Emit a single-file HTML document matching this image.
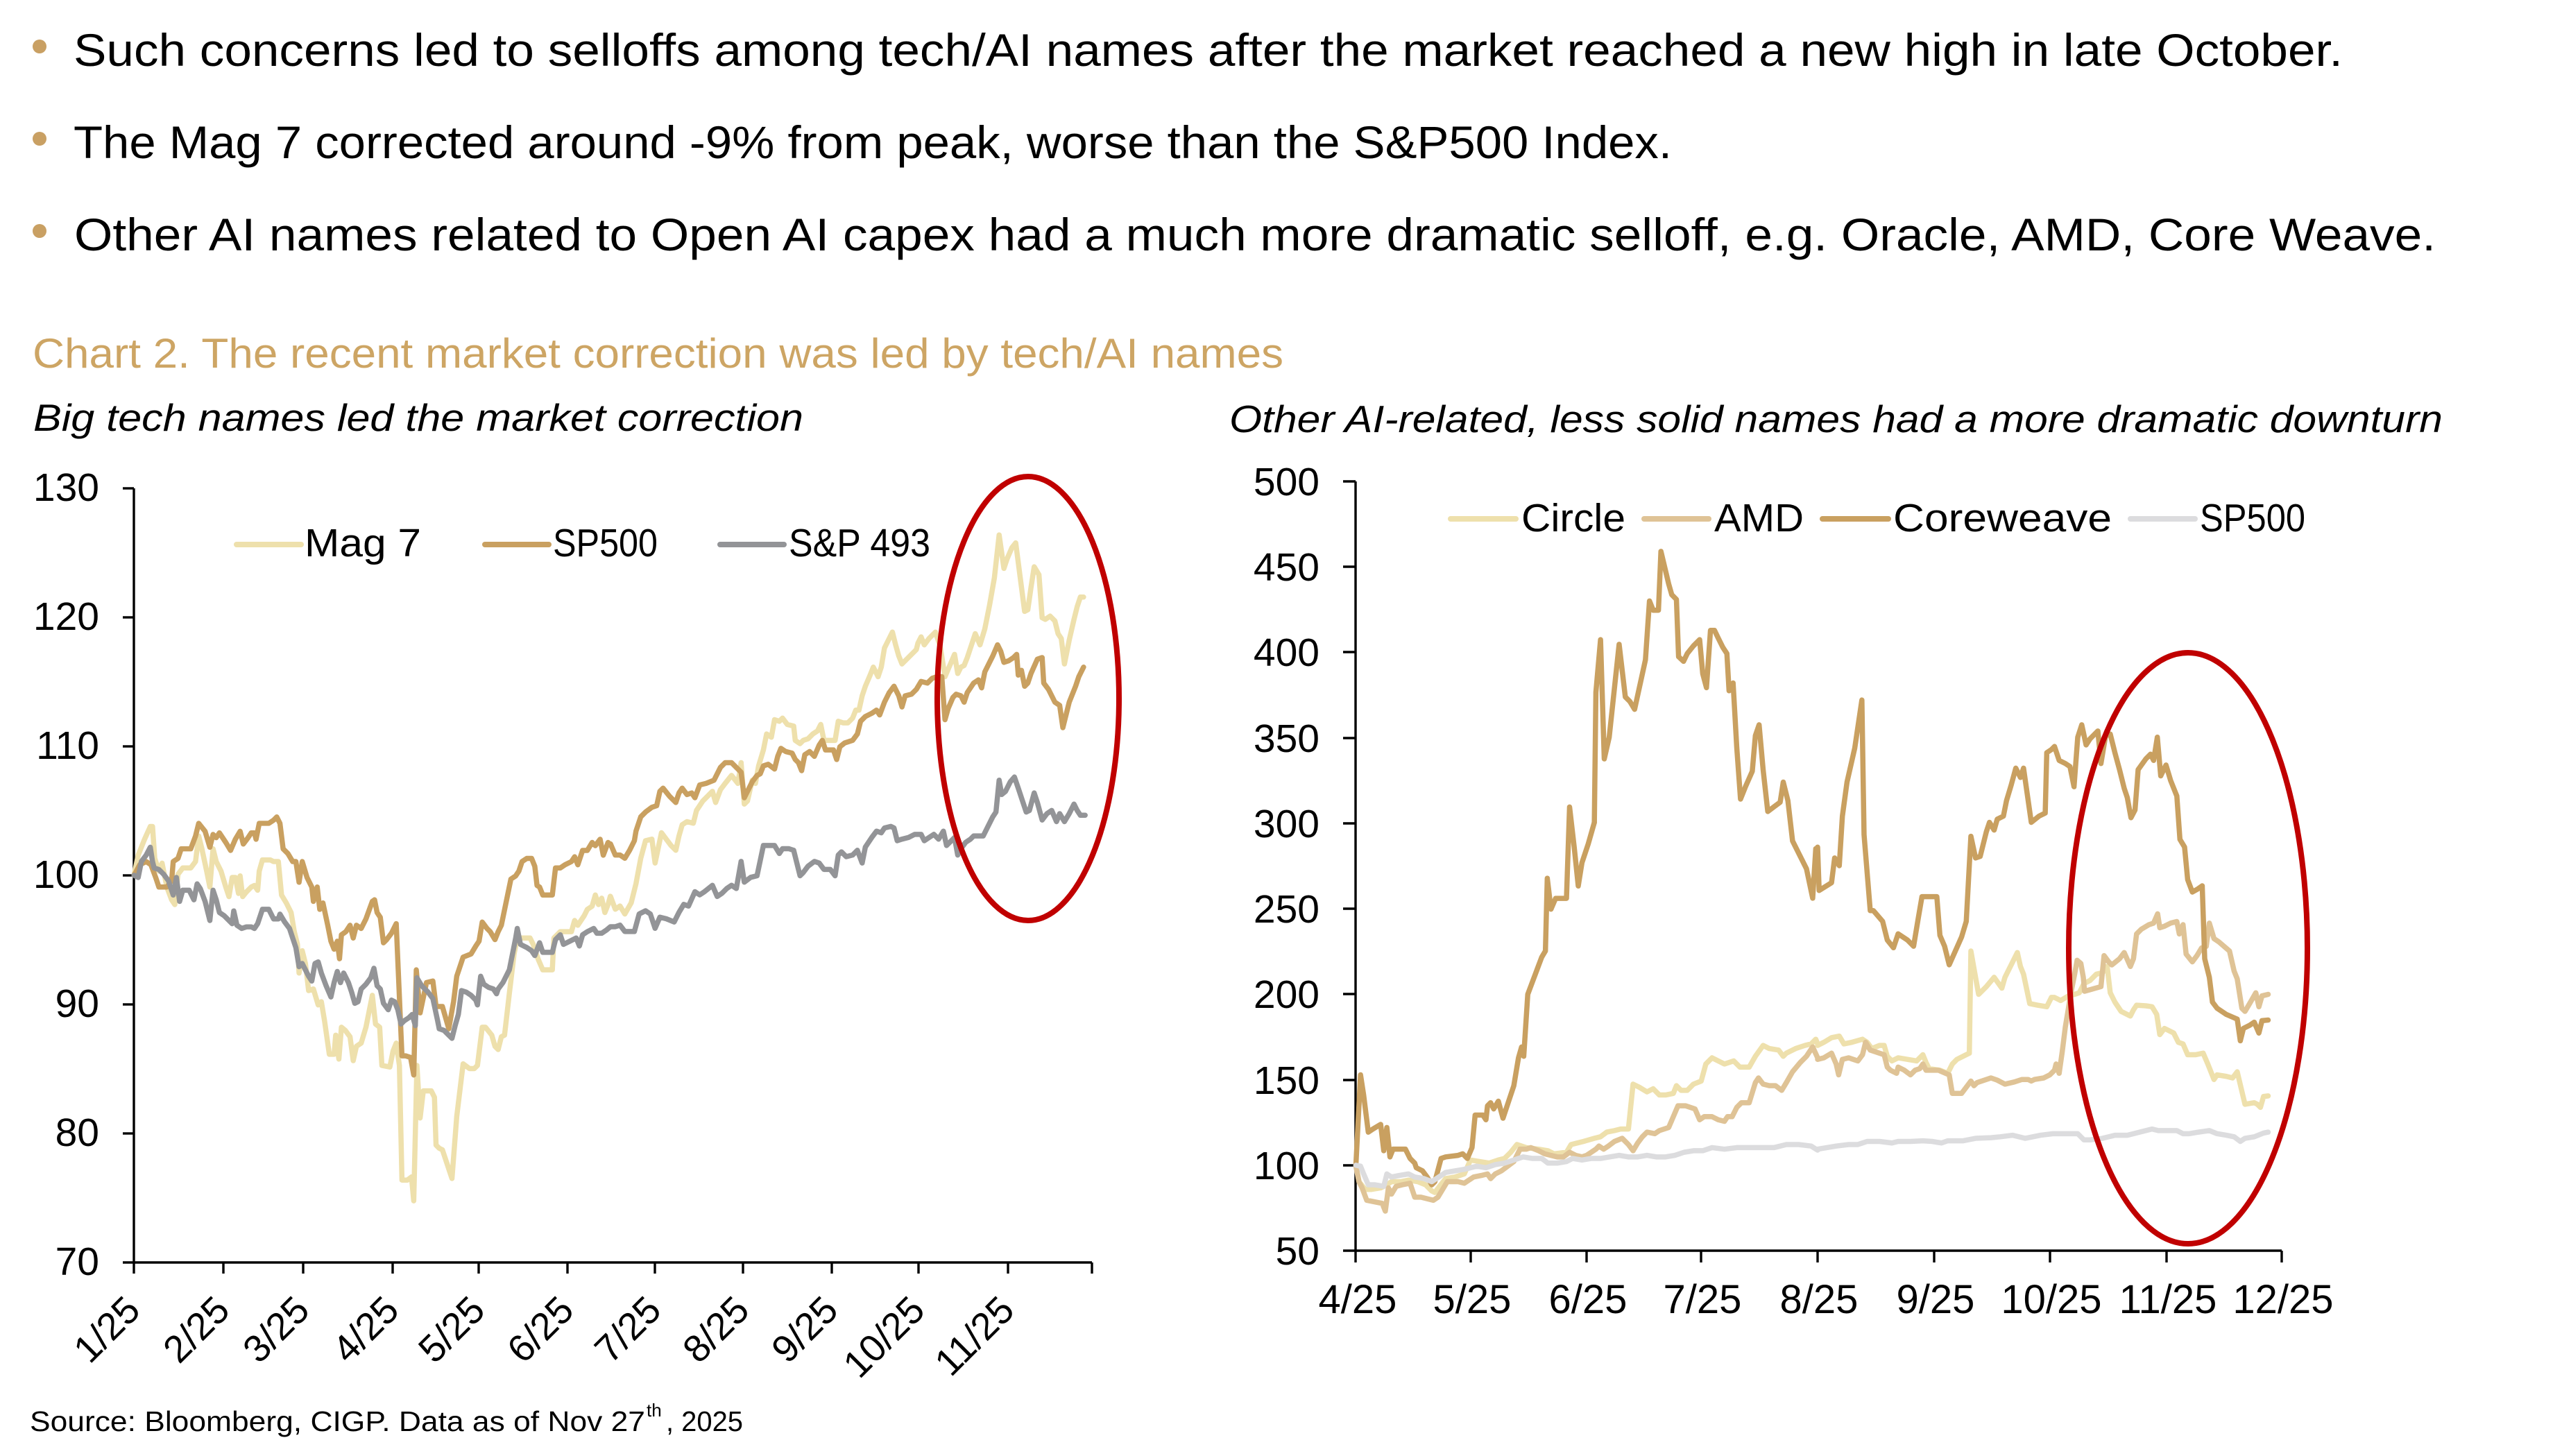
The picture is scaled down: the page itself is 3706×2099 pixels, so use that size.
<!DOCTYPE html>
<html>
<head>
<meta charset="utf-8">
<style>
html,body{margin:0;padding:0;background:#fff;}
svg{display:block;}
</style>
</head>
<body>
<svg xmlns="http://www.w3.org/2000/svg" width="3706" height="2099" viewBox="0 0 3706 2099" font-family="'Liberation Sans', Arial, sans-serif">
<rect x="0" y="0" width="3706" height="2099" fill="#ffffff"/>

<!-- Bullets -->
<circle cx="57" cy="67" r="10" fill="#C9A063"/>
<circle cx="57" cy="200" r="10" fill="#C9A063"/>
<circle cx="57" cy="333" r="10" fill="#C9A063"/>
<text x="106" y="95" font-size="66" fill="#000" textLength="3271" lengthAdjust="spacingAndGlyphs">Such concerns led to selloffs among tech/AI names after the market reached a new high in late October.</text>
<text x="106" y="228" font-size="66" fill="#000" textLength="2304" lengthAdjust="spacingAndGlyphs">The Mag 7 corrected around -9% from peak, worse than the S&amp;P500 Index.</text>
<text x="107" y="361" font-size="66" fill="#000" textLength="3404" lengthAdjust="spacingAndGlyphs">Other AI names related to Open AI capex had a much more dramatic selloff, e.g. Oracle, AMD, Core Weave.</text>

<!-- Titles -->
<text x="47" y="530" font-size="60" fill="#CDA564" textLength="1803" lengthAdjust="spacingAndGlyphs">Chart 2. The recent market correction was led by tech/AI names</text>
<text x="48" y="621" font-size="55" font-style="italic" fill="#000" textLength="1110" lengthAdjust="spacingAndGlyphs">Big tech names led the market correction</text>
<text x="1772" y="623" font-size="55" font-style="italic" fill="#000" textLength="1749" lengthAdjust="spacingAndGlyphs">Other AI-related, less solid names had a more dramatic downturn</text>

<!-- ================= LEFT CHART ================= -->
<g stroke="#000" stroke-width="3.4" fill="none">
  <line x1="193" y1="704" x2="193" y2="1820"/>
  <line x1="177" y1="1820" x2="1574" y2="1820"/>
  <line x1="177" y1="704" x2="193" y2="704"/>
  <line x1="177" y1="890" x2="193" y2="890"/>
  <line x1="177" y1="1076" x2="193" y2="1076"/>
  <line x1="177" y1="1262" x2="193" y2="1262"/>
  <line x1="177" y1="1448" x2="193" y2="1448"/>
  <line x1="177" y1="1634" x2="193" y2="1634"/>
  <line x1="193" y1="1820" x2="193" y2="1836"/>
  <line x1="322" y1="1820" x2="322" y2="1836"/>
  <line x1="437" y1="1820" x2="437" y2="1836"/>
  <line x1="566" y1="1820" x2="566" y2="1836"/>
  <line x1="690" y1="1820" x2="690" y2="1836"/>
  <line x1="818" y1="1820" x2="818" y2="1836"/>
  <line x1="944" y1="1820" x2="944" y2="1836"/>
  <line x1="1071" y1="1820" x2="1071" y2="1836"/>
  <line x1="1199" y1="1820" x2="1199" y2="1836"/>
  <line x1="1324" y1="1820" x2="1324" y2="1836"/>
  <line x1="1453" y1="1820" x2="1453" y2="1836"/>
  <line x1="1574" y1="1820" x2="1574" y2="1836"/>
</g>
<g font-size="57" fill="#000" text-anchor="end">
  <text x="143" y="722">130</text>
  <text x="143" y="908">120</text>
  <text x="143" y="1094">110</text>
  <text x="143" y="1280">100</text>
  <text x="143" y="1466">90</text>
  <text x="143" y="1652">80</text>
  <text x="143" y="1838">70</text>
</g>
<g font-size="55" fill="#000" text-anchor="end">
  <text x="205" y="1892" transform="rotate(-45 205 1892)">1/25</text>
  <text x="334" y="1892" transform="rotate(-45 334 1892)">2/25</text>
  <text x="449" y="1892" transform="rotate(-45 449 1892)">3/25</text>
  <text x="578" y="1892" transform="rotate(-45 578 1892)">4/25</text>
  <text x="702" y="1892" transform="rotate(-45 702 1892)">5/25</text>
  <text x="830" y="1892" transform="rotate(-45 830 1892)">6/25</text>
  <text x="956" y="1892" transform="rotate(-45 956 1892)">7/25</text>
  <text x="1083" y="1892" transform="rotate(-45 1083 1892)">8/25</text>
  <text x="1211" y="1892" transform="rotate(-45 1211 1892)">9/25</text>
  <text x="1336" y="1892" transform="rotate(-45 1336 1892)">10/25</text>
  <text x="1465" y="1892" transform="rotate(-45 1465 1892)">11/25</text>
</g>

<!-- Left legend -->
<g stroke-width="8" stroke-linecap="round">
  <line x1="341" y1="785" x2="434" y2="785" stroke="#EEE0AC"/>
  <line x1="699" y1="785" x2="791" y2="785" stroke="#C9A060"/>
  <line x1="1038" y1="785" x2="1130" y2="785" stroke="#939497"/>
</g>
<g font-size="57" fill="#000">
  <text x="439" y="802" textLength="168" lengthAdjust="spacingAndGlyphs">Mag 7</text>
  <text x="797" y="802" textLength="151" lengthAdjust="spacingAndGlyphs">SP500</text>
  <text x="1137" y="802" textLength="204" lengthAdjust="spacingAndGlyphs">S&amp;P 493</text>
</g>

<!-- Left series -->
<g transform="translate(190,1040) scale(0.4592)" fill="none" stroke-width="16.3" stroke-linejoin="round" stroke-linecap="round">
<path stroke="#EEE0AC" d="M7,483 L20,420 40,370 58,330 65,330 72,430 85,470 95,445 110,520 125,560 135,575 145,480 160,460 185,460 200,440 210,360 220,400 235,470 245,520 255,400 265,440 280,470 295,520 305,550 315,490 325,490 335,540 340,485 348,550 360,535 375,520 385,515 395,530 400,470 410,435 435,435 445,440 460,440 470,545 485,570 500,600 510,660 520,700 525,790 535,720 545,760 555,845 570,840 585,890 595,880 605,940 620,1045 635,1045 640,985 650,1060 658,960 670,970 685,990 695,1065 705,1020 720,1010 735,960 755,860 765,950 778,960 785,1080 810,1085 820,1035 830,1010 840,1080 848,1440 865,1440 878,1430 885,1505 895,1080 905,1245 915,1160 940,1160 950,1180 955,1330 965,1340 975,1345 990,1390 1005,1435 1020,1240 1040,1075 1060,1090 1075,1090 1085,1080 1100,960 1110,960 1130,985 1140,1020 1150,1030 1160,990 1170,985 1185,855 1200,730 1210,680 1225,680 1250,680 1260,700 1275,745 1290,780 1320,780 1325,680 1345,660 1360,660 1380,660 1390,625 1400,640 1410,625 1420,610 1430,590 1445,580 1455,545 1465,575 1475,555 1485,600 1495,575 1502,549"/>
<path stroke="#C9A060" d="M7,483 L25,450 45,440 60,450 75,490 85,520 110,520 125,500 130,440 145,430 155,400 185,400 200,360 210,320 230,345 245,395 255,355 265,365 275,350 295,380 310,405 325,370 340,345 350,385 365,365 375,350 385,350 390,370 400,320 430,320 445,310 455,300 465,320 475,400 490,415 505,440 515,440 525,505 535,440 550,490 565,520 570,565 582,520 590,590 600,570 615,640 625,690 635,715 645,690 652,745 658,670 672,660 685,640 695,680 705,640 720,650 735,620 755,565 762,560 770,600 780,615 790,695 800,685 815,665 830,635 848,1050 860,1050 875,1055 885,1110 893,780 905,915 925,820 945,815 955,895 975,895 995,965 1010,880 1020,800 1040,740 1065,730 1080,705 1090,690 1100,630 1115,650 1125,660 1140,685 1150,660 1160,640 1190,495 1205,485 1215,470 1225,440 1240,430 1255,430 1265,455 1272,515 1280,520 1290,545 1320,545 1330,460 1345,460 1360,450 1380,440 1390,425 1400,450 1415,405 1430,405 1445,380 1455,390 1470,370 1480,420 1495,380 1502,387"/>
</g>
<g transform="translate(880,700) scale(0.4592)" fill="none" stroke-width="16.3" stroke-linejoin="round" stroke-linecap="round">
<path stroke="#EEE0AC" d="M0,1290 L15,1330 30,1320 45,1345 65,1310 80,1250 95,1170 110,1115 130,1110 140,1185 160,1090 175,1110 190,1130 205,1145 215,1100 225,1065 240,1055 260,1060 270,1020 290,990 305,975 320,960 330,995 345,955 360,935 380,910 400,935 410,870 420,1000 430,990 445,925 455,935 465,880 480,830 490,780 505,790 515,735 530,740 540,730 555,750 575,755 580,800 595,810 605,800 620,795 635,780 650,770 660,750 670,800 690,800 705,800 715,740 730,745 745,745 760,730 770,705 780,705 790,660 800,630 815,595 825,570 840,600 850,570 860,510 870,490 885,460 895,500 905,535 915,560 930,545 945,530 960,515 965,495 975,475 985,500 1000,480 1020,460 1035,505 1050,600 1065,565 1080,530 1090,590 1100,570 1110,565 1120,540 1130,510 1145,465 1160,500 1175,450 1190,375 1205,290 1220,155 1235,260 1245,230 1260,195 1272,180 1285,280 1300,395 1310,390 1320,320 1330,255 1345,280 1355,415 1365,420 1380,410 1395,425 1405,465 1415,480 1425,560 1440,485 1455,420 1465,380 1475,350 1485,350"/>
<path stroke="#C9A060" d="M0,1125 L15,1160 30,1160 45,1170 60,1145 75,1115 80,1085 95,1040 110,1025 130,1010 145,1005 155,960 165,950 185,975 205,995 215,965 225,950 240,970 255,965 265,980 280,940 300,935 325,925 335,905 345,885 360,870 380,870 395,885 410,900 420,980 430,960 445,930 460,910 470,905 480,880 495,875 515,890 525,850 535,825 550,835 570,840 580,860 590,870 600,895 610,845 625,835 640,850 655,815 665,800 675,830 700,830 710,860 720,820 735,808 760,800 775,780 785,740 800,725 820,715 835,705 845,720 860,680 875,650 890,630 905,660 915,695 925,660 945,655 960,640 975,615 995,620 1010,605 1025,600 1040,600 1050,735 1060,700 1075,665 1085,655 1100,660 1110,680 1120,650 1140,620 1155,610 1165,635 1175,585 1190,555 1200,535 1215,500 1225,520 1235,555 1250,550 1265,540 1275,530 1280,595 1290,580 1300,630 1310,620 1320,590 1340,545 1355,540 1360,620 1375,640 1395,680 1410,690 1420,760 1440,680 1460,630 1470,600 1485,570"/>
</g>
<g transform="translate(190,1040) scale(0.4592)" fill="none" stroke-width="16.3" stroke-linejoin="round" stroke-linecap="round">
<path stroke="#939497" d="M7,483 L20,490 30,440 45,420 58,395 65,440 70,460 85,465 100,480 115,500 130,545 140,490 150,565 160,530 180,530 195,560 205,510 215,525 230,565 245,625 255,530 265,560 275,600 290,610 300,620 315,635 320,595 330,640 345,650 360,645 375,645 385,650 395,635 410,590 430,590 445,620 460,620 465,605 480,630 495,650 505,680 515,710 525,770 535,760 545,780 555,800 565,815 575,760 585,755 595,790 610,830 625,865 635,820 645,785 655,820 665,790 680,820 690,850 700,885 710,880 720,840 735,825 750,805 760,775 770,830 780,840 790,885 805,905 815,875 825,880 835,905 845,950 855,940 870,930 880,920 890,955 895,805 910,830 930,850 945,870 960,940 965,965 980,970 995,985 1005,995 1015,955 1025,920 1035,845 1050,850 1065,860 1080,875 1085,890 1095,800 1105,825 1120,835 1135,840 1145,855 1150,840 1165,820 1185,780 1195,730 1205,680 1210,650 1220,700 1240,710 1255,720 1265,735 1280,695 1290,725 1320,725 1330,685 1345,670 1355,700 1375,690 1395,680 1405,705 1415,670 1430,660 1450,650 1460,665 1475,665 1490,655 1502,645"/>
</g>
<g transform="translate(880,700) scale(0.4592)" fill="none" stroke-width="16.3" stroke-linejoin="round" stroke-linecap="round">
<path stroke="#939497" d="M0,1385 L15,1385 30,1380 45,1400 60,1400 75,1400 90,1345 110,1335 125,1345 140,1390 155,1355 175,1360 200,1370 215,1340 230,1315 245,1320 265,1275 280,1285 295,1275 320,1255 335,1290 350,1280 365,1265 380,1255 395,1265 410,1180 420,1245 440,1230 460,1225 480,1130 500,1130 515,1130 530,1155 540,1140 560,1140 575,1145 595,1225 605,1215 620,1195 640,1180 655,1185 670,1205 690,1205 705,1225 715,1160 725,1150 740,1165 760,1160 775,1145 790,1185 800,1135 820,1105 835,1085 850,1090 860,1075 880,1070 890,1075 900,1115 915,1110 935,1105 955,1095 975,1095 985,1115 1000,1105 1015,1095 1030,1110 1045,1085 1055,1130 1070,1115 1080,1105 1090,1160 1100,1140 1115,1120 1130,1110 1140,1100 1155,1100 1170,1100 1185,1070 1200,1040 1210,1025 1220,925 1228,970 1240,960 1255,930 1268,915 1280,950 1290,980 1305,1025 1315,1020 1330,965 1340,995 1355,1050 1370,1030 1385,1020 1400,1055 1410,1030 1425,1055 1440,1030 1455,1000 1465,1020 1475,1035 1490,1035"/>
</g>
<ellipse cx="1482" cy="1007" rx="131" ry="320" fill="none" stroke="#C00000" stroke-width="8"/>

<!-- ================= RIGHT CHART ================= -->
<g stroke="#000" stroke-width="3.4" fill="none">
  <line x1="1954" y1="694" x2="1954" y2="1803"/>
  <line x1="1936" y1="1803" x2="3289" y2="1803"/>
  <line x1="1936" y1="694" x2="1954" y2="694"/>
  <line x1="1936" y1="817" x2="1954" y2="817"/>
  <line x1="1936" y1="940" x2="1954" y2="940"/>
  <line x1="1936" y1="1064" x2="1954" y2="1064"/>
  <line x1="1936" y1="1187" x2="1954" y2="1187"/>
  <line x1="1936" y1="1310" x2="1954" y2="1310"/>
  <line x1="1936" y1="1433" x2="1954" y2="1433"/>
  <line x1="1936" y1="1557" x2="1954" y2="1557"/>
  <line x1="1936" y1="1680" x2="1954" y2="1680"/>
  <line x1="1954" y1="1803" x2="1954" y2="1820"/>
  <line x1="2120" y1="1803" x2="2120" y2="1820"/>
  <line x1="2287" y1="1803" x2="2287" y2="1820"/>
  <line x1="2452" y1="1803" x2="2452" y2="1820"/>
  <line x1="2620" y1="1803" x2="2620" y2="1820"/>
  <line x1="2788" y1="1803" x2="2788" y2="1820"/>
  <line x1="2955" y1="1803" x2="2955" y2="1820"/>
  <line x1="3123" y1="1803" x2="3123" y2="1820"/>
  <line x1="3289" y1="1803" x2="3289" y2="1820"/>
</g>
<g font-size="57" fill="#000" text-anchor="end">
  <text x="1902" y="714">500</text>
  <text x="1902" y="837">450</text>
  <text x="1902" y="960">400</text>
  <text x="1902" y="1084">350</text>
  <text x="1902" y="1207">300</text>
  <text x="1902" y="1330">250</text>
  <text x="1902" y="1453">200</text>
  <text x="1902" y="1577">150</text>
  <text x="1902" y="1700">100</text>
  <text x="1902" y="1823">50</text>
</g>
<g font-size="58" fill="#000" text-anchor="middle">
  <text x="1957" y="1893">4/25</text>
  <text x="2122" y="1893">5/25</text>
  <text x="2289" y="1893">6/25</text>
  <text x="2454" y="1893">7/25</text>
  <text x="2622" y="1893">8/25</text>
  <text x="2790" y="1893">9/25</text>
  <text x="2957" y="1893">10/25</text>
  <text x="3125" y="1893">11/25</text>
  <text x="3291" y="1893">12/25</text>
</g>

<!-- Right legend -->
<g stroke-width="8" stroke-linecap="round">
  <line x1="2091" y1="748" x2="2185" y2="748" stroke="#EEE0AC"/>
  <line x1="2370" y1="748" x2="2463" y2="748" stroke="#DFC396"/>
  <line x1="2627" y1="748" x2="2722" y2="748" stroke="#C9A060"/>
  <line x1="3071" y1="748" x2="3164" y2="748" stroke="#DCDCDE"/>
</g>
<g font-size="57" fill="#000">
  <text x="2193" y="766" textLength="150" lengthAdjust="spacingAndGlyphs">Circle</text>
  <text x="2471" y="766" textLength="129" lengthAdjust="spacingAndGlyphs">AMD</text>
  <text x="2729" y="766" textLength="315" lengthAdjust="spacingAndGlyphs">Coreweave</text>
  <text x="3171" y="766" textLength="152" lengthAdjust="spacingAndGlyphs">SP500</text>
</g>

<!-- Circle -->
<g transform="translate(1950,1150) scale(0.4464)" fill="none" stroke-width="16.8" stroke-linejoin="round" stroke-linecap="round">
<path stroke="#EEE0AC" d="M10,1187 L20,1240 40,1265 60,1265 90,1260 110,1250 125,1240 155,1240 180,1235 210,1240 235,1250 255,1270 265,1275 280,1255 300,1230 330,1225 360,1215 380,1170 410,1175 440,1180 470,1170 490,1165 510,1145 530,1120 560,1130 600,1135 630,1140 650,1150 690,1145 705,1120 725,1115 745,1110 780,1100 800,1095 820,1080 845,1075 865,1070 890,1070 905,925 925,935 950,950 970,940 990,960 1010,960 1035,955 1045,930 1060,945 1080,945 1100,925 1125,915 1140,860 1160,840 1180,850 1200,860 1215,855 1230,850 1250,870 1280,870 1300,835 1325,800 1345,810 1375,815 1390,835 1400,825 1430,810 1460,800 1480,795 1495,780 1501,795"/>
</g>
<g transform="translate(2620,1150) scale(0.4464)" fill="none" stroke-width="16.8" stroke-linejoin="round" stroke-linecap="round">
<path stroke="#EEE0AC" d="M0,800 L20,790 45,775 70,770 85,795 110,790 145,780 160,790 175,810 200,800 215,800 225,835 240,850 260,840 290,845 320,850 340,830 350,855 360,875 395,880 420,890 435,860 450,845 490,825 495,495 510,580 520,635 545,610 570,580 595,615 605,580 630,530 645,500 655,545 665,570 685,665 710,670 740,675 755,645 765,645 785,655 810,640 830,635 845,630 860,600 880,590 900,570 920,565 935,545 945,630 960,660 980,690 1010,705 1020,685 1030,670 1060,672 1080,675 1095,700 1105,765 1120,745 1150,760 1165,790 1180,795 1195,830 1220,830 1245,825 1260,860 1280,910 1290,895 1320,900 1340,905 1355,885 1380,990 1410,985 1420,990 1430,1000 1440,965 1455,963"/>
</g>
<!-- AMD -->
<g transform="translate(1950,1150) scale(0.4464)" fill="none" stroke-width="16.8" stroke-linejoin="round" stroke-linecap="round">
<path stroke="#DFC396" d="M10,1190 L20,1240 30,1260 45,1300 70,1305 95,1310 105,1335 115,1260 125,1280 140,1255 160,1250 185,1245 200,1290 220,1290 240,1295 260,1300 275,1290 290,1265 305,1240 340,1240 360,1245 375,1235 390,1225 415,1220 435,1215 445,1230 460,1215 480,1205 500,1190 520,1175 540,1135 560,1135 575,1130 600,1140 620,1150 640,1155 660,1160 680,1160 700,1145 720,1155 740,1160 755,1155 770,1145 785,1135 795,1125 810,1135 825,1125 845,1110 870,1100 890,1120 905,1140 920,1115 935,1095 950,1080 975,1085 990,1075 1020,1065 1035,1030 1050,995 1075,995 1105,1005 1120,1040 1135,1030 1160,1030 1180,1040 1200,1045 1210,1030 1225,1030 1240,1000 1255,985 1280,985 1300,920 1310,905 1325,925 1345,930 1365,930 1385,945 1400,920 1420,885 1445,855 1465,835 1485,805 1501,840"/>
</g>
<g transform="translate(2620,1150) scale(0.4464)" fill="none" stroke-width="16.8" stroke-linejoin="round" stroke-linecap="round">
<path stroke="#DFC396" d="M0,845 L20,840 45,825 60,860 68,895 80,845 100,840 130,850 145,830 155,790 170,815 200,825 215,830 225,870 235,880 255,890 260,870 280,880 300,895 315,880 330,875 340,860 350,880 360,880 390,880 425,895 435,955 465,955 480,935 495,915 505,930 515,920 560,905 580,912 605,925 635,918 660,910 680,910 690,915 700,910 730,905 750,895 765,880 770,860 780,890 790,820 800,740 810,680 820,620 830,570 838,525 850,535 858,580 862,625 880,620 915,610 925,510 940,530 950,540 975,520 990,500 1010,545 1020,520 1030,440 1045,425 1070,410 1085,405 1098,375 1105,420 1120,415 1140,405 1160,400 1168,440 1180,410 1190,505 1210,530 1225,510 1240,485 1255,480 1265,405 1280,455 1295,465 1330,495 1345,560 1355,585 1370,680 1380,690 1395,665 1415,630 1425,675 1435,640 1455,635"/>
</g>
<!-- Coreweave -->
<g transform="translate(1950,1150) scale(0.4464)" fill="none" stroke-width="16.8" stroke-linejoin="round" stroke-linecap="round">
<path stroke="#C9A060" d="M10,1187 L25,895 35,960 50,1080 65,1070 90,1055 100,1140 110,1065 120,1160 130,1135 170,1135 185,1165 200,1180 205,1195 225,1205 240,1225 255,1250 265,1240 285,1165 300,1160 340,1155 355,1150 370,1165 385,1130 395,1025 420,1025 430,1040 435,995 445,985 455,1005 470,980 485,1035 500,990 520,930 535,840 545,805 552,835 565,635 580,595 595,555 610,515 622,495 628,260 640,360 655,325 690,325 700,30 715,160 728,285 740,210 760,150 780,80"/>
</g>
<g transform="translate(1950,690) scale(0.4464)" fill="none" stroke-width="16.8" stroke-linejoin="round" stroke-linecap="round">
<path stroke="#C9A060" d="M780,1110 L785,690 800,520 812,905 828,835 860,535 880,705 895,720 910,745 945,585 958,395 970,425 987,425 995,235 1020,340 1030,375 1045,390 1052,575 1068,590 1080,565 1100,540 1120,520 1130,630 1142,675 1155,490 1168,490 1180,515 1195,545 1208,565 1215,685 1228,660 1240,870 1252,1035 1268,995 1290,945 1300,830 1312,795 1325,940 1340,1075 1360,1060 1380,1045 1390,980 1405,1040 1420,1170 1440,1210 1465,1260 1485,1355 1495,1195"/>
</g>
<g transform="translate(2620,690) scale(0.4464)" fill="none" stroke-width="16.8" stroke-linejoin="round" stroke-linecap="round">
<path stroke="#C9A060" d="M0,1190 L5,1330 45,1305 55,1225 70,1250 80,1090 95,980 120,870 143,715 150,1150 170,1395 180,1395 210,1430 225,1490 245,1515 260,1470 290,1490 310,1510 325,1420 337,1350 385,1350 395,1475 410,1510 425,1570 465,1480 480,1430 495,1155 510,1225 525,1220 545,1140 555,1110 570,1135 580,1100 600,1090 610,1040 625,990 640,935 655,965 665,935 690,1110 715,1090 735,1080 740,885 755,875 765,865 780,910 800,920 815,930 828,995 840,835 853,795 867,860 880,840 895,825 905,815 915,920 930,830 945,825 960,885 975,940 990,1000 1000,1030 1012,1095 1025,1070 1035,940 1060,905 1075,890 1085,910 1097,835 1108,960 1125,925 1140,975 1160,1025 1170,1165 1185,1190 1195,1295 1210,1335 1228,1325 1242,1315"/>
</g>
<g transform="translate(2620,1150) scale(0.4464)" fill="none" stroke-width="16.8" stroke-linejoin="round" stroke-linecap="round">
<path stroke="#C9A060" d="M1242,285 L1250,520 1265,580 1275,660 1290,680 1320,700 1355,715 1365,785 1375,745 1395,735 1410,725 1425,760 1435,720 1455,718"/>
</g>
<!-- SP500 right -->
<g transform="translate(1950,1150) scale(0.4464)" fill="none" stroke-width="16.8" stroke-linejoin="round" stroke-linecap="round">
<path stroke="#DCDCDE" d="M10,1187 L25,1190 35,1215 50,1250 70,1250 100,1255 110,1215 125,1225 150,1220 180,1215 200,1225 230,1230 255,1240 270,1230 300,1210 330,1205 360,1200 380,1195 400,1190 430,1195 460,1185 490,1180 520,1170 550,1160 580,1165 610,1165 630,1180 660,1180 690,1175 710,1165 740,1170 770,1165 800,1165 830,1160 860,1155 890,1160 920,1160 950,1155 980,1160 1010,1160 1040,1155 1070,1145 1100,1140 1130,1140 1160,1130 1200,1135 1240,1130 1280,1130 1330,1130 1360,1130 1400,1120 1440,1120 1480,1125 1501,1138"/>
</g>
<g transform="translate(2620,1150) scale(0.4464)" fill="none" stroke-width="16.8" stroke-linejoin="round" stroke-linecap="round">
<path stroke="#DCDCDE" d="M0,1135 L30,1130 60,1125 100,1120 130,1120 160,1110 200,1110 240,1115 260,1110 300,1110 340,1108 370,1110 400,1115 420,1108 470,1108 510,1100 560,1098 590,1095 630,1090 670,1100 720,1090 760,1085 800,1085 840,1085 860,1105 880,1105 920,1100 960,1090 1000,1090 1040,1080 1080,1070 1100,1075 1130,1075 1160,1075 1180,1085 1200,1085 1230,1080 1265,1075 1290,1085 1320,1090 1345,1095 1365,1110 1380,1100 1410,1095 1440,1083 1455,1080"/>
</g>
<ellipse cx="3154" cy="1367" rx="172" ry="426" fill="none" stroke="#C00000" stroke-width="8"/>

<!-- Source -->
<text x="43" y="2063" font-size="41" fill="#000" textLength="887" lengthAdjust="spacingAndGlyphs">Source: Bloomberg, CIGP. Data as of Nov 27</text>
<text x="932" y="2042" font-size="26" fill="#000">th</text>
<text x="960" y="2063" font-size="41" fill="#000" textLength="111" lengthAdjust="spacingAndGlyphs">, 2025</text>
</svg>
</body>
</html>
